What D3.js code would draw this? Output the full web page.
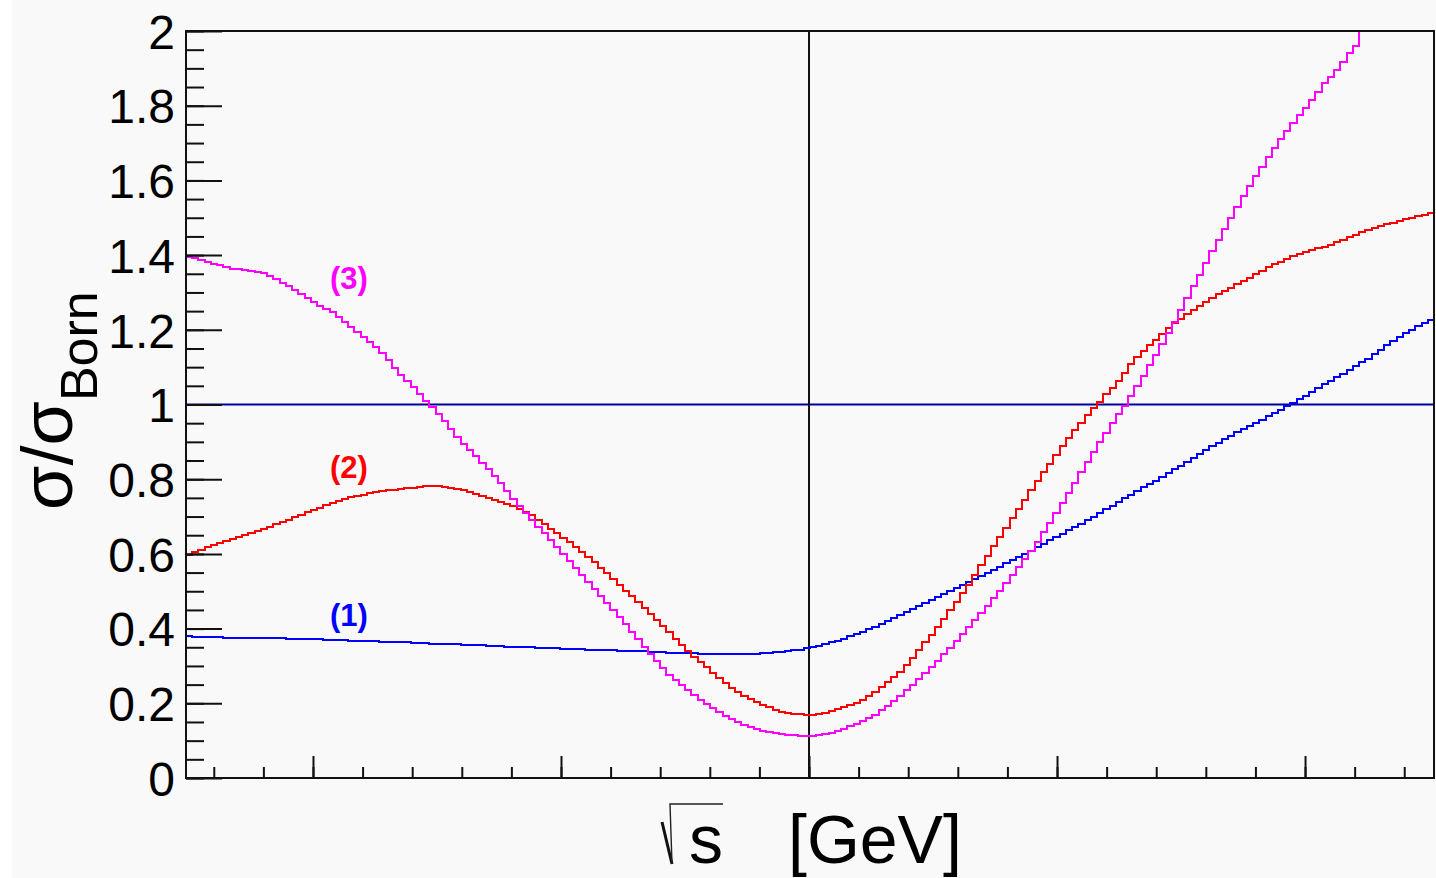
<!DOCTYPE html>
<html>
<head>
<meta charset="utf-8">
<script src="https://cdn.jsdelivr.net/npm/d3@7"></script>
<style>
  html, body { margin: 0; padding: 0; background: #ffffff; }
  svg { display: block; }
  text { font-family: "Liberation Sans", Arial, Helvetica, sans-serif; }
</style>
</head>
<body>
<svg id="chart" width="1436" height="878"></svg>
<script>
// Histogram range and binning (200 equal bins around the peak position)
const xRange = [-2.512, 2.520];
const nBins = 200;

// Ratio sigma / sigma_Born per bin, for the three calculations
const series1 = [
  0.379,0.378,0.378,0.377,0.377,0.377,0.376,0.376,0.376,0.375,
  0.375,0.375,0.375,0.374,0.374,0.374,0.373,0.373,0.372,0.372,
  0.371,0.371,0.370,0.370,0.369,0.369,0.368,0.368,0.367,0.366,
  0.366,0.365,0.365,0.364,0.363,0.363,0.362,0.361,0.361,0.360,
  0.360,0.359,0.358,0.358,0.357,0.357,0.356,0.355,0.354,0.354,
  0.353,0.352,0.352,0.351,0.350,0.350,0.349,0.348,0.348,0.347,
  0.346,0.346,0.345,0.345,0.344,0.343,0.343,0.342,0.342,0.341,
  0.340,0.340,0.339,0.339,0.338,0.337,0.337,0.336,0.335,0.335,
  0.334,0.334,0.333,0.333,0.332,0.332,0.331,0.331,0.331,0.331,
  0.332,0.333,0.334,0.335,0.337,0.338,0.340,0.342,0.344,0.347,
  0.350,0.354,0.358,0.363,0.368,0.373,0.379,0.385,0.391,0.398,
  0.405,0.412,0.420,0.428,0.436,0.444,0.452,0.460,0.468,0.476,
  0.484,0.492,0.500,0.508,0.516,0.524,0.532,0.541,0.549,0.558,
  0.566,0.575,0.583,0.592,0.600,0.609,0.618,0.627,0.636,0.645,
  0.654,0.663,0.672,0.681,0.690,0.699,0.709,0.719,0.729,0.739,
  0.749,0.759,0.769,0.778,0.787,0.796,0.806,0.816,0.826,0.836,
  0.847,0.857,0.867,0.878,0.888,0.898,0.908,0.917,0.926,0.934,
  0.942,0.950,0.959,0.968,0.977,0.986,0.995,1.005,1.014,1.024,
  1.034,1.044,1.054,1.064,1.074,1.083,1.093,1.103,1.113,1.123,
  1.134,1.146,1.158,1.170,1.181,1.191,1.200,1.209,1.218,1.227
];

const series2 = [
  0.597,0.604,0.611,0.618,0.625,0.630,0.635,0.640,0.645,0.650,
  0.655,0.661,0.667,0.673,0.679,0.685,0.691,0.698,0.705,0.712,
  0.718,0.724,0.730,0.736,0.742,0.748,0.752,0.755,0.759,0.762,
  0.766,0.768,0.770,0.772,0.774,0.776,0.777,0.779,0.781,0.782,
  0.781,0.779,0.777,0.774,0.770,0.766,0.761,0.756,0.751,0.745,
  0.740,0.734,0.727,0.720,0.712,0.704,0.692,0.680,0.668,0.656,
  0.643,0.631,0.618,0.604,0.591,0.577,0.563,0.548,0.533,0.518,
  0.502,0.487,0.471,0.455,0.439,0.422,0.406,0.390,0.373,0.357,
  0.341,0.325,0.310,0.296,0.282,0.268,0.254,0.241,0.230,0.220,
  0.211,0.203,0.195,0.189,0.183,0.178,0.175,0.172,0.171,0.170,
  0.170,0.172,0.175,0.179,0.184,0.189,0.195,0.202,0.210,0.220,
  0.231,0.243,0.256,0.270,0.285,0.303,0.322,0.342,0.363,0.384,
  0.405,0.427,0.449,0.472,0.495,0.518,0.543,0.570,0.595,0.620,
  0.645,0.670,0.695,0.720,0.745,0.771,0.795,0.819,0.842,0.865,
  0.888,0.910,0.931,0.951,0.971,0.990,1.008,1.027,1.045,1.063,
  1.085,1.108,1.126,1.142,1.158,1.173,1.188,1.204,1.217,1.230,
  1.242,1.254,1.265,1.275,1.285,1.295,1.304,1.313,1.322,1.331,
  1.340,1.349,1.358,1.367,1.375,1.382,1.390,1.397,1.403,1.408,
  1.413,1.418,1.423,1.428,1.434,1.441,1.448,1.454,1.461,1.467,
  1.472,1.477,1.482,1.487,1.492,1.496,1.500,1.504,1.508,1.513
];

const series3 = [
  1.396,1.391,1.387,1.382,1.377,1.373,1.368,1.364,1.362,1.360,
  1.358,1.356,1.351,1.343,1.335,1.326,1.317,1.306,1.296,1.285,
  1.274,1.265,1.257,1.248,1.235,1.221,1.207,1.194,1.180,1.167,
  1.154,1.138,1.118,1.098,1.080,1.063,1.046,1.028,1.010,0.992,
  0.974,0.955,0.935,0.914,0.894,0.878,0.861,0.844,0.827,0.808,
  0.789,0.768,0.747,0.727,0.709,0.691,0.673,0.655,0.637,0.619,
  0.600,0.582,0.563,0.544,0.525,0.506,0.487,0.468,0.449,0.430,
  0.411,0.392,0.372,0.352,0.332,0.313,0.294,0.277,0.262,0.248,
  0.235,0.222,0.209,0.198,0.187,0.177,0.167,0.158,0.150,0.143,
  0.137,0.132,0.127,0.123,0.120,0.117,0.115,0.114,0.113,0.112,
  0.112,0.114,0.117,0.121,0.126,0.132,0.138,0.145,0.152,0.160,
  0.170,0.181,0.193,0.206,0.220,0.235,0.250,0.265,0.281,0.297,
  0.314,0.331,0.349,0.367,0.385,0.403,0.422,0.441,0.461,0.481,
  0.502,0.523,0.544,0.565,0.587,0.609,0.633,0.658,0.684,0.710,
  0.737,0.764,0.791,0.818,0.845,0.872,0.899,0.925,0.950,0.974,
  0.997,1.022,1.049,1.077,1.105,1.133,1.162,1.192,1.222,1.253,
  1.284,1.316,1.348,1.379,1.410,1.440,1.470,1.500,1.530,1.557,
  1.584,1.611,1.637,1.662,1.686,1.710,1.733,1.755,1.775,1.795,
  1.815,1.838,1.860,1.878,1.896,1.918,1.942,1.961,1.999,2.030,
  2.060,2.090,2.120,2.150,2.180,2.210,2.240,2.270,2.300,2.330
];

const seriesNames = ["(1)", "(2)", "(3)"];
const seriesColors = ["#0000ff", "#ff0000", "#ff00ff"];

// Axis ticks
const yMajorTicks = [0, 0.2, 0.4, 0.6, 0.8, 1, 1.2, 1.4, 1.6, 1.8, 2];
const yTickLabels = ["0", "0.2", "0.4", "0.6", "0.8", "1", "1.2", "1.4", "1.6", "1.8", "2"];
const yMinorTicks = d3.range(0, 41).map(k => k * 0.05);
const xMajorTicks = [-2, -1, 0, 1, 2];
const xMinorTicks = d3.range(-12, 13).map(k => k * 0.2);

// Reference lines: ratio 1 and the central energy
const unitRatio = 1;
const centralX = 0;

// ---------- drawing ----------
const svg = d3.select("#chart");
const W = 1436, H = 878;
const frame = { left: 186, right: 1434, top: 31, bottom: 778 };

svg.append("rect").attr("x", 0).attr("y", 0).attr("width", W).attr("height", H).attr("fill", "#ffffff");
svg.append("rect").attr("x", 12).attr("y", 0).attr("width", W - 12).attr("height", H).attr("fill", "#f9f9f9");

const x = d3.scaleLinear().domain(xRange).range([frame.left, frame.right]);
const y = d3.scaleLinear().domain([0, 2]).range([frame.bottom, frame.top]);

svg.append("defs").append("clipPath").attr("id", "plotClip")
  .append("rect")
  .attr("x", frame.left).attr("y", frame.top - 1)
  .attr("width", frame.right - frame.left).attr("height", frame.bottom - frame.top + 1);

// Bin edges
const binWidth = (xRange[1] - xRange[0]) / nBins;
function histPoints(vals) {
  const pts = vals.map((v, i) => [xRange[0] + i * binWidth, v]);
  pts.push([xRange[1], vals[vals.length - 1]]);
  return pts;
}
const stepLine = d3.line()
  .x(d => x(d[0]))
  .y(d => y(d[1]))
  .curve(d3.curveStepAfter);

const plot = svg.append("g").attr("clip-path", "url(#plotClip)");

// Horizontal line at ratio 1
plot.append("line")
  .attr("x1", x(xRange[0])).attr("x2", x(xRange[1]))
  .attr("y1", y(unitRatio)).attr("y2", y(unitRatio))
  .attr("stroke", "#00009a").attr("stroke-width", 2);

// Vertical line at the centre
plot.append("line")
  .attr("x1", x(centralX)).attr("x2", x(centralX))
  .attr("y1", y(0)).attr("y2", y(2))
  .attr("stroke", "#111111").attr("stroke-width", 2);

[series1, series2, series3].forEach((vals, k) => {
  plot.append("path")
    .attr("d", stepLine(histPoints(vals)))
    .attr("fill", "none")
    .attr("stroke", seriesColors[k])
    .attr("stroke-width", 2)
    .attr("shape-rendering", "crispEdges");
});

// Frame
svg.append("rect")
  .attr("x", frame.left).attr("y", frame.top)
  .attr("width", frame.right - frame.left).attr("height", frame.bottom - frame.top)
  .attr("fill", "none").attr("stroke", "#111111").attr("stroke-width", 2);

// Y axis: minor ticks, then major ticks with labels
const yMinorAxis = d3.axisLeft(y).tickValues(yMinorTicks).tickSizeInner(-18).tickSizeOuter(0).tickFormat("");
const gyMinor = svg.append("g").attr("transform", `translate(${frame.left},0)`).call(yMinorAxis);
gyMinor.select(".domain").remove();

const yMajorAxis = d3.axisLeft(y).tickValues(yMajorTicks).tickSizeInner(-36).tickSizeOuter(0)
  .tickPadding(11)
  .tickFormat((d, i) => yTickLabels[i]);
const gyMajor = svg.append("g").attr("transform", `translate(${frame.left},0)`).call(yMajorAxis);
gyMajor.select(".domain").remove();
gyMajor.selectAll("text")
  .attr("font-size", 48)
  .attr("font-family", "'Liberation Sans', Arial, sans-serif")
  .attr("fill", "#000")
  .attr("dy", "0.36em");

// X axis: ticks only, no labels
const xMinorAxis = d3.axisBottom(x).tickValues(xMinorTicks).tickSizeInner(-11).tickSizeOuter(0).tickFormat("");
const gxMinor = svg.append("g").attr("transform", `translate(0,${frame.bottom})`).call(xMinorAxis);
gxMinor.select(".domain").remove();
const xMajorAxis = d3.axisBottom(x).tickValues(xMajorTicks).tickSizeInner(-22).tickSizeOuter(0).tickFormat("");
const gxMajor = svg.append("g").attr("transform", `translate(0,${frame.bottom})`).call(xMajorAxis);
gxMajor.select(".domain").remove();
svg.selectAll(".tick line").attr("stroke", "#111111").attr("stroke-width", 2);

// Curve labels
const labelPos = [[-1.855, 0.434], [-1.855, 0.830], [-1.855, 1.338]];
seriesNames.forEach((name, k) => {
  svg.append("text")
    .attr("x", x(labelPos[k][0]))
    .attr("y", y(labelPos[k][1]))
    .attr("text-anchor", "middle")
    .attr("dominant-baseline", "central")
    .attr("font-size", 31)
    .attr("font-weight", "bold")
    .attr("fill", seriesColors[k])
    .text(name);
});

// X axis title: sqrt(s) [GeV]
const xt = svg.append("g");
xt.append("path")
  .attr("d", "M662,822 L672,864")
  .attr("stroke", "#111").attr("stroke-width", 3).attr("fill", "none");
xt.append("path")
  .attr("d", "M672,864 L670,804 L723,804")
  .attr("stroke", "#222").attr("stroke-width", 1.4).attr("fill", "none");
xt.append("text").attr("x", 689).attr("y", 863).attr("font-size", 68).attr("fill", "#000").text("s");
xt.append("text").attr("x", 788).attr("y", 863).attr("font-size", 68).attr("fill", "#000").text("[GeV]");

// Y axis title: sigma / sigma_Born
const yt = svg.append("text")
  .attr("transform", "translate(72,510) rotate(-90)")
  .attr("fill", "#000");
yt.append("tspan").attr("font-size", 72).text("σ/σ");
yt.append("tspan").attr("font-size", 52).attr("dy", 25).text("Born");
</script>
</body>
</html>
